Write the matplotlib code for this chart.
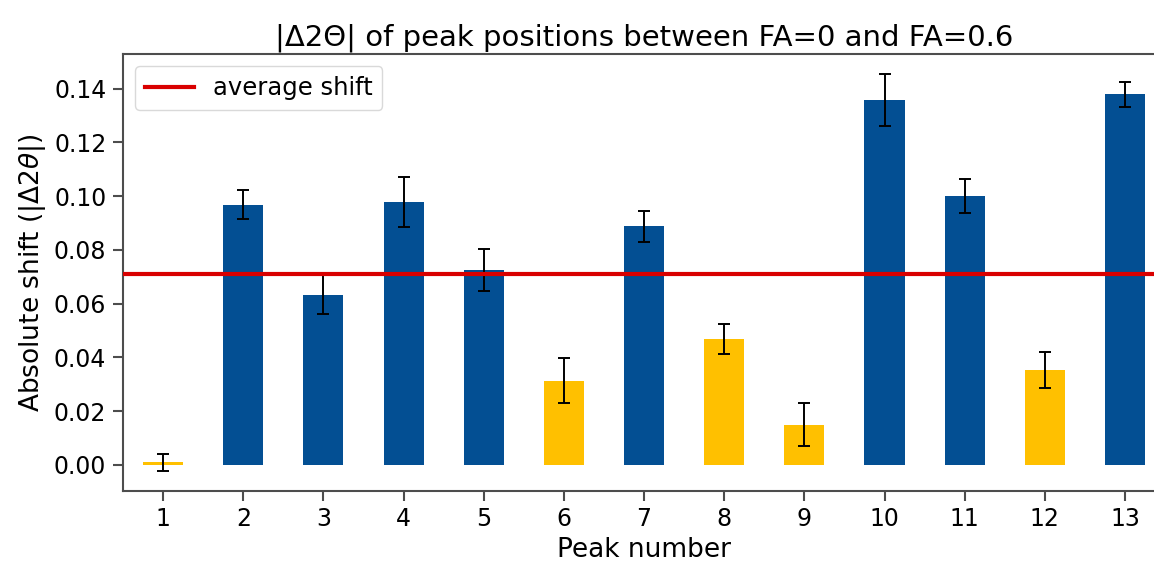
import numpy as np
import matplotlib.pyplot as plt

# Peak shifts |d2theta| between FA=0 and FA=0.6, with fit uncertainties
peaks = np.arange(1, 14)
shift = [0.0010, 0.0968, 0.0634, 0.0979, 0.0726, 0.0314, 0.0888,
         0.0469, 0.0150, 0.1358, 0.1001, 0.0355, 0.1379]
shift_err = [0.0032, 0.0054, 0.0071, 0.0094, 0.0078, 0.0083, 0.0058,
             0.0056, 0.0081, 0.0096, 0.0062, 0.0067, 0.0047]
groups = ["y", "b", "b", "b", "b", "y", "b", "y", "y", "b", "b", "y", "b"]

BLUE = "#034f93"
GOLD = "#ffc000"
RED = "#d90000"
colors = [BLUE if g == "b" else GOLD for g in groups]

avg_shift = np.mean(shift)

plt.rcParams["axes.edgecolor"] = "0.3"
plt.rcParams["axes.linewidth"] = 1.5
plt.rcParams["xtick.color"] = "0.3"
plt.rcParams["ytick.color"] = "0.3"
plt.rcParams["xtick.labelcolor"] = "black"
plt.rcParams["ytick.labelcolor"] = "black"

fig = plt.figure(figsize=(11.54, 5.63), dpi=100)
ax = fig.add_axes([0.1066, 0.1285, 0.9030, 0.7750])

ax.bar(peaks, shift, width=0.5, color=colors, zorder=2)
ax.errorbar(peaks, shift, yerr=shift_err, fmt="none", ecolor="black",
            elinewidth=1.4, capsize=4, capthick=1.4, zorder=3)
ax.axhline(avg_shift, color=RED, lw=3, label="average shift", zorder=4)

ax.set_xlim(0.5, 13.5)
ax.set_xticks(peaks)
ax.tick_params(axis="both", labelsize=17, length=7, width=1.5, pad=5)

ax.set_title("|Δ2Θ| of peak positions between FA=0 and FA=0.6", fontsize=21)
ax.set_xlabel("Peak number", fontsize=19)
ax.set_ylabel(r"Absolute shift ($|\Delta 2\theta|$)", fontsize=19)
ax.legend(loc="upper left", fontsize=17.5, framealpha=1, edgecolor="0.85")

fig.savefig("out.png", dpi=100)
